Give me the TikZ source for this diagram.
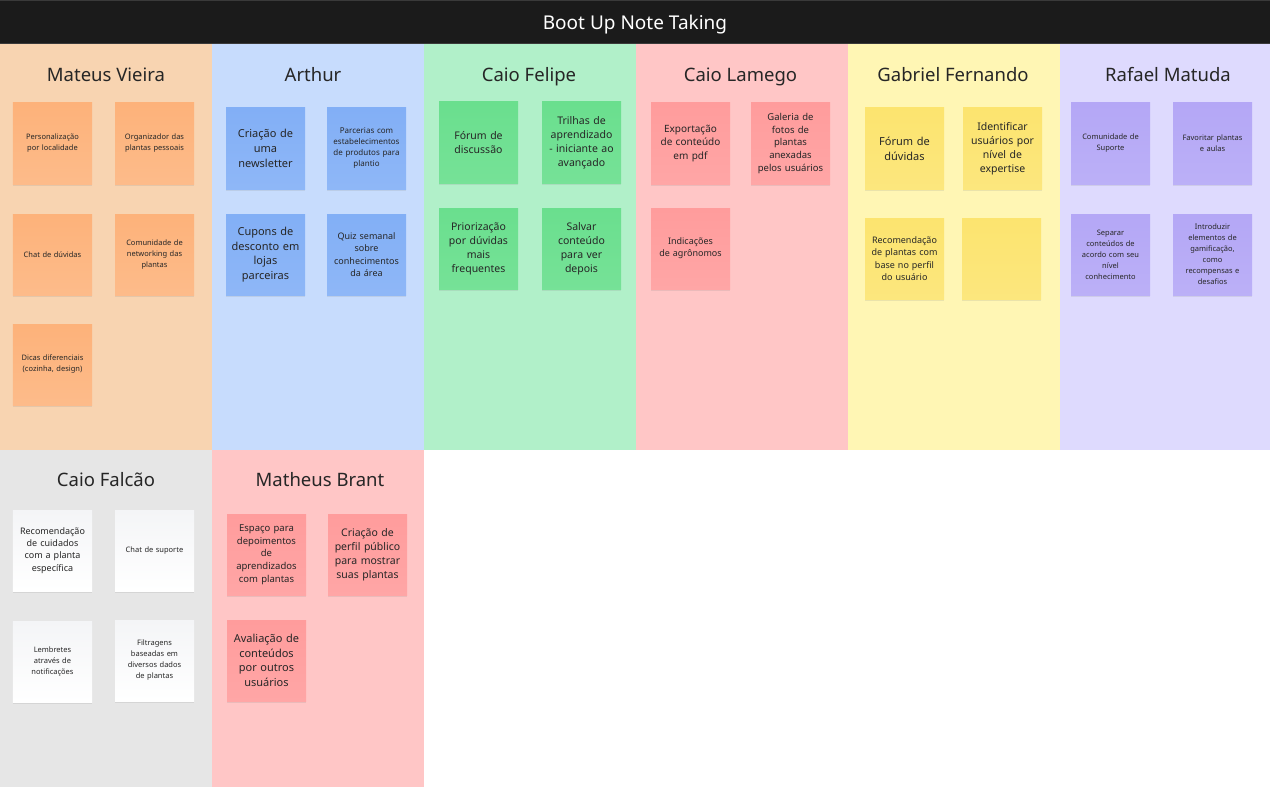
\documentclass[tikz,border=0pt]{standalone}
\usepackage{fontspec}
\setmainfont{Noto Sans}
\usetikzlibrary{shadows}
\definecolor{hdr}{HTML}{1B1B1B}
\definecolor{hdrline}{HTML}{3A3A3A}
\definecolor{txt}{HTML}{262626}
\definecolor{colpeach}{HTML}{F8D4B1}
\definecolor{colblue}{HTML}{C7DCFD}
\definecolor{colgreen}{HTML}{B1F0C9}
\definecolor{colpink}{HTML}{FFC6C6}
\definecolor{colyellow}{HTML}{FFF6B4}
\definecolor{colpurple}{HTML}{DEDAFE}
\definecolor{colgray}{HTML}{E6E6E6}
\definecolor{norange}{HTML}{FDB27A}
\definecolor{nblue}{HTML}{82AFF6}
\definecolor{ngreen}{HTML}{6ADF8E}
\definecolor{npink}{HTML}{FF9C9C}
\definecolor{nyellow}{HTML}{FCE46F}
\definecolor{npurple}{HTML}{B4A7F6}
\definecolor{nwhite}{HTML}{F4F5F7}
\newcommand\fsz[2]{\fontsize{#1bp}{#2bp}\selectfont}
\newcommand\stick[6]{\node[note, #4, #5] (#1) at (#2+39.5,#3+40.5) {#6};}
\tikzset{
  note/.style={inner sep=0pt, minimum width=79bp, minimum height=81bp,
    text width=77bp, align=center, text=txt,
    drop shadow={shadow xshift=0bp, shadow yshift=-2bp, opacity=0.16}},
  orangenote/.style={top color=norange, bottom color=norange!88!white},
  bluenote/.style={top color=nblue, bottom color=nblue!90!white},
  greennote/.style={top color=ngreen, bottom color=ngreen!92!white},
  pinknote/.style={top color=npink, bottom color=npink!90!white},
  yellownote/.style={top color=nyellow, bottom color=nyellow!90!white},
  purplenote/.style={top color=npurple, bottom color=npurple!90!white},
  whitenote/.style={top color=nwhite, bottom color=white},
  sA/.style={font=\fsz{7.5}{11}},
  sB/.style={font=\fsz{8}{11}},
  sC/.style={font=\fsz{9}{12.3}},
  sD/.style={font=\fsz{9.5}{12.7}},
  sE/.style={font=\fsz{10}{13.5}},
  sF/.style={font=\fsz{10.5}{14}},
  sG/.style={font=\fsz{11}{14.7}},
  coltitle/.style={font=\fsz{18.5}{22}, text=txt, inner sep=0pt, anchor=base},
}
\begin{document}
\begin{tikzpicture}[x=1bp,y=-1bp]
\useasboundingbox (0,0) rectangle (1270,787);
\fill[white] (0,0) rectangle (1270,787);
% header
\fill[hdr] (0,0) rectangle (1270,44);
\draw[hdrline, line width=1bp] (0,0.5) -- (1270,0.5);
\draw[hdrline, line width=0.8bp] (0,43.6) -- (1270,43.6);
\node[font=\fsz{19}{22}, text=white, inner sep=0pt, anchor=base] (title) at (635,29.5) {Boot Up Note Taking};
% columns
\fill[colpeach]  (0,44) rectangle (212,450);
\fill[colblue]   (212,44) rectangle (424,450);
\fill[colgreen]  (424,44) rectangle (636,450);
\fill[colpink]   (636,44) rectangle (848,450);
\fill[colyellow] (848,44) rectangle (1060,450);
\fill[colpurple] (1060,44) rectangle (1270,450);
\fill[colgray]   (0,450) rectangle (212,787);
\fill[colpink]   (212,450) rectangle (424,787);
% column titles
\node[coltitle] (tmv) at (106,81.7) {Mateus Vieira};
\node[coltitle] (tar) at (313,81.7) {Arthur};
\node[coltitle] (tcf) at (529,81.7) {Caio Felipe};
\node[coltitle] (tcl) at (740.5,81.7) {Caio Lamego};
\node[coltitle] (tgf) at (953,81.7) {Gabriel Fernando};
\node[coltitle] (trm) at (1168,81.7) {Rafael Matuda};
\node[coltitle] (tcfa) at (106,486.7) {Caio Falcão};
\node[coltitle] (tmb) at (320,486.7) {Matheus Brant};
% Mateus Vieira
\stick{mv1}{13}{103}{orangenote}{sA}{Personalização\\por localidade}
\stick{mv2}{115}{103}{orangenote}{sA}{Organizador das\\plantas pessoais}
\stick{mv3}{13}{214}{orangenote}{sA}{Chat de dúvidas}
\stick{mv4}{115}{214}{orangenote}{sA}{Comunidade de\\networking das\\plantas}
\stick{mv5}{13}{324}{orangenote}{sA}{Dicas diferenciais\\(cozinha, design)}
% Arthur
\stick{ar1}{226}{108}{bluenote}{sG}{Criação de\\uma\\newsletter}
\stick{ar2}{327}{108}{bluenote}{sB}{Parcerias com\\estabelecimentos\\de produtos para\\plantio}
\stick{ar3}{226}{214}{bluenote}{sG}{Cupons de\\desconto em\\lojas\\parceiras}
\stick{ar4}{327}{214}{bluenote}{sC}{Quiz semanal\\sobre\\conhecimentos\\da área}
% Caio Felipe
\stick{cf1}{439}{102}{greennote}{sF}{Fórum de\\discussão}
\stick{cf2}{542}{102}{greennote}{sF}{Trilhas de\\aprendizado\\- iniciante ao\\avançado}
\stick{cf3}{439}{208}{greennote}{sF}{Priorização\\por dúvidas\\mais\\frequentes}
\stick{cf4}{542}{208}{greennote}{sF}{Salvar\\conteúdo\\para ver\\depois}
% Caio Lamego
\stick{cl1}{651}{103}{pinknote}{sE}{Exportação\\de conteúdo\\em pdf}
\stick{cl2}{751}{103}{pinknote}{sD}{Galeria de\\fotos de\\plantas\\anexadas\\pelos usuários}
\stick{cl3}{651}{208}{pinknote}{sC}{Indicações\\de agrônomos}
% Gabriel Fernando
\stick{gf1}{865}{108}{yellownote}{sG}{Fórum de\\dúvidas}
\stick{gf2}{963}{108}{yellownote}{sF}{Identificar\\usuários por\\nível de\\expertise}
\stick{gf3}{865}{218}{yellownote}{sC}{Recomendação\\de plantas com\\base no perfil\\do usuário}
\stick{gf4}{962}{218}{yellownote}{sC}{}
% Rafael Matuda
\stick{rm1}{1071}{103}{purplenote}{sA}{Comunidade de\\Suporte}
\stick{rm2}{1173}{103}{purplenote}{sA}{Favoritar plantas\\e aulas}
\stick{rm3}{1071}{214}{purplenote}{sA}{Separar\\conteúdos de\\acordo com seu\\nível\\conhecimento}
\stick{rm4}{1173}{214}{purplenote}{sA}{Introduzir\\elementos de\\gamificação,\\como\\recompensas e\\desafios}
% Caio Falcao
\stick{cfa1}{13}{510}{whitenote}{sC}{Recomendação\\de cuidados\\com a planta\\específica}
\stick{cfa2}{115}{510}{whitenote}{sA}{Chat de suporte}
\stick{cfa3}{13}{621}{whitenote}{sA}{Lembretes\\através de\\notificações}
\stick{cfa4}{115}{620}{whitenote}{sA}{Filtragens\\baseadas em\\diversos dados\\de plantas}
% Matheus Brant
\stick{mb1}{227}{514}{pinknote}{sD}{Espaço para\\depoimentos\\de\\aprendizados\\com plantas}
\stick{mb2}{328}{514}{pinknote}{sF}{Criação de\\perfil público\\para mostrar\\suas plantas}
\stick{mb3}{227}{620}{pinknote}{sG}{Avaliação de\\conteúdos\\por outros\\usuários}
\end{tikzpicture}
\end{document}
